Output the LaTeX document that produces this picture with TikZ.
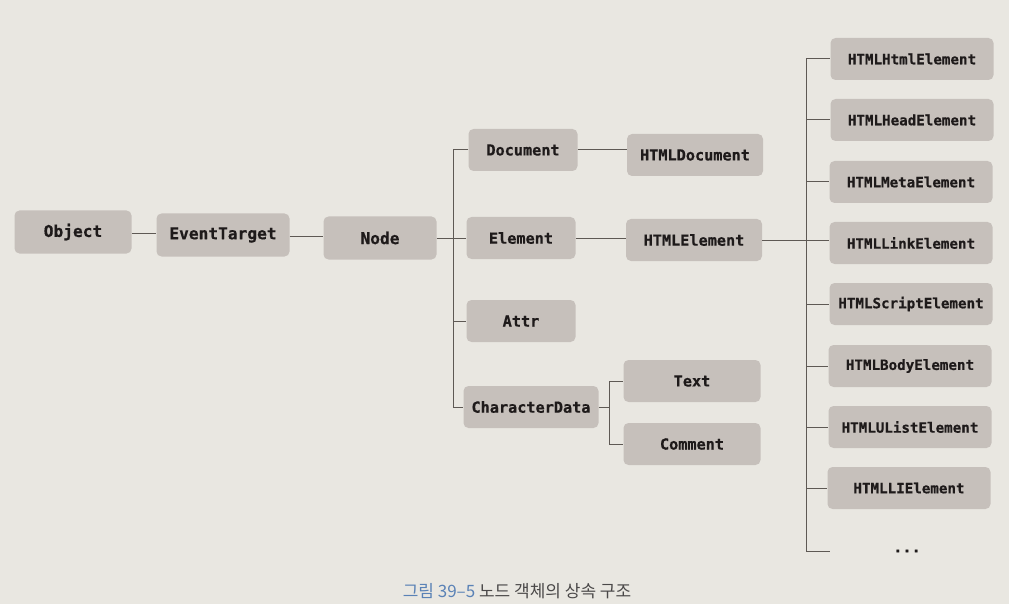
\documentclass[tikz,border=0pt]{standalone}
\usepackage{fontspec}
\setmonofont[BoldFeatures={FakeBold=0.6}]{DejaVu Sans Mono}
\newfontfamily\krfont{Noto Sans CJK KR}
\definecolor{paper}{HTML}{E9E7E1}
\definecolor{boxfill}{HTML}{C6C0BB}
\definecolor{linec}{HTML}{5E5954}
\definecolor{txt}{HTML}{1E1A1A}
\definecolor{capblue}{HTML}{5A82B6}
\definecolor{capgray}{HTML}{4A4848}
\tikzset{
  cls/.style={draw=none, fill=boxfill, rounded corners=5pt, inner sep=0pt,
    font=\ttfamily\bfseries\fontsize{15.2}{17}\selectfont, text=txt,
    minimum height=42pt},
  big/.style={cls, font=\ttfamily\bfseries\fontsize{16.2}{18}\selectfont, minimum height=43pt},
  rcol/.style={cls, font=\ttfamily\bfseries\fontsize{14.2}{16}\selectfont, minimum width=163pt, minimum height=42pt},
  conn/.style={draw=linec, line width=1pt},
}
\begin{document}
\begin{tikzpicture}[x=1pt,y=-1pt]
\fill[paper] (0,0) rectangle (1009,604);
\useasboundingbox (0,0) rectangle (1009,604);
% left chain
\node[big, minimum width=117pt] (obj) at (73,232) {Object};
\node[big, minimum width=133pt] (evt) at (223,235) {EventTarget};
\node[big, minimum width=113pt] (node) at (380,238) {Node};
% middle column
\node[cls, minimum width=109pt] (doc) at (523,150) {Document};
\node[cls, minimum width=109pt] (elem) at (521,238) {Element};
\node[cls, minimum width=109pt] (attr) at (521,321) {Attr};
\node[cls, minimum width=135pt] (cdata) at (531,407) {CharacterData};
% HTML column
\node[cls, minimum width=136pt] (hdoc) at (695,155) {HTMLDocument};
\node[cls, minimum width=136pt] (helem) at (694,240) {HTMLElement};
\node[cls, minimum width=137pt] (text) at (692,381) {Text};
\node[cls, minimum width=137pt] (comm) at (692,444) {Comment};
% right column
\node[rcol] (r1) at (912,59) {HTMLHtmlElement};
\node[rcol] (r2) at (912,120) {HTMLHeadElement};
\node[rcol] (r3) at (911,182) {HTMLMetaElement};
\node[rcol] (r4) at (911,243) {HTMLLinkElement};
\node[rcol] (r5) at (911,304) {HTMLScriptElement};
\node[rcol] (r6) at (910,366) {HTMLBodyElement};
\node[rcol] (r7) at (910,427) {HTMLUListElement};
\node[rcol] (r8) at (909,488) {HTMLLIElement};
\node[font=\ttfamily\bfseries\fontsize{15}{16}\selectfont, text=txt, inner sep=0pt] (dots) at (907,551) {...};
\coordinate (dend) at (806,551);
% connectors (horizontal)
\draw[conn] (obj.east |- 0,233) -- (evt.west |- 0,233);
\draw[conn] (evt.east |- 0,236) -- (node.west |- 0,236);
\draw[conn] (node.east) -- (elem.west);
\draw[conn] (doc.west) -- ++(-15,0) |- (cdata.west);
\draw[conn] (doc.west) ++(-15,0) |- (attr.west);
\draw[conn] (doc.east) -- (doc.east -| hdoc.west);
\draw[conn] (elem.east) -- (elem.east -| helem.west);
\draw[conn] (cdata.east) -- ++(11,0) coordinate (cj);
\draw[conn] (cj |- text.west) -- (text.west);
\draw[conn] (cj |- text.west) -- (cj |- comm.west) -- (comm.west);
\draw[conn] (helem.east) -- (helem.east -| r4.west);
\draw[conn] (806,59) -- (dend) -- ++(24,0);
\foreach \r in {r1,r2,r3,r5,r6,r7,r8} {
  \draw[conn] (806,0 |- \r.west) -- (\r.west);
}
% caption
\node[font=\krfont\fontsize{17}{20}\selectfont, inner sep=0pt] (cap) at (517,591)
  {\textcolor{capblue}{그림 39–5}\ \textcolor{capgray}{노드 객체의 상속 구조}};
\end{tikzpicture}
\end{document}
